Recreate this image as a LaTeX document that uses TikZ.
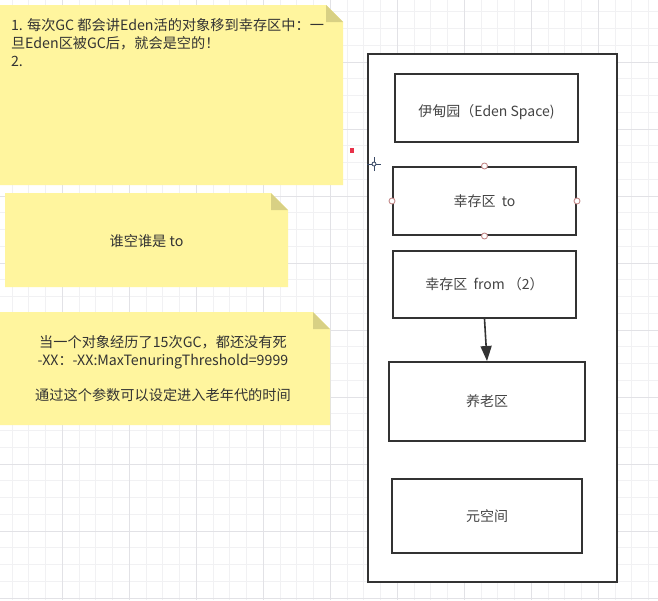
\documentclass[tikz,border=0pt]{standalone}
\usepackage{fontspec}
\setmainfont{Noto Sans CJK SC}
\usetikzlibrary{arrows.meta}
\definecolor{gridminor}{HTML}{F1F1F3}
\definecolor{gridmajor}{HTML}{E2E2E6}
\definecolor{notefill}{HTML}{FFF59E}
\definecolor{notefold}{HTML}{D8D084}
\definecolor{notetext}{HTML}{333333}
\definecolor{boxline}{HTML}{333333}
\definecolor{boxtext}{HTML}{444444}
\definecolor{handle}{HTML}{C48A8A}
\definecolor{cursor}{HTML}{3A4A66}
\definecolor{reddot}{HTML}{E8324A}
\tikzset{
  notebox/.style={inner sep=0pt, outer sep=0pt, align=center, text=notetext,
    font=\fontsize{14.2}{18}\selectfont},
  membox/.style={draw=boxline, line width=2pt, fill=white, inner sep=0pt,
    text=boxtext, font=\fontsize{14}{18}\selectfont},
  outerbox/.style={draw=boxline, line width=2.2pt, fill=white, inner sep=0pt},
  handledot/.style={circle, draw=handle, fill=white, line width=0.9pt,
    minimum size=6pt, inner sep=0pt},
  flowarrow/.style={draw=boxline, line width=1.6pt,
    -{Triangle[width=11pt,length=15pt]}}
}
\newcommand{\drawnote}[1]{%
  \fill[notefill] (#1.north west) -- ([xshift=-17pt]#1.north east)
    -- ([yshift=-17pt]#1.north east) -- (#1.south east) -- (#1.south west) -- cycle;
  \fill[notefold] ([xshift=-17pt]#1.north east) -- ([yshift=-17pt]#1.north east)
    -- ([xshift=-17pt,yshift=-17pt]#1.north east) -- cycle;
}
\begin{document}
\begin{tikzpicture}[x=1pt,y=-1pt]
  % background and bounds
  \fill[white] (0,0) rectangle (658,600);
  \useasboundingbox (0,0) rectangle (658,600);
  % grid
  \foreach \i in {0,...,39} {
    \draw[gridminor, line width=0.7pt] ({12.05+16.75*\i},0) -- ++(0,600);
  }
  \foreach \i in {0,...,36} {
    \draw[gridminor, line width=0.7pt] (0,{11.75+16.75*\i}) -- ++(658,0);
  }
  \foreach \i in {0,...,9} {
    \draw[gridmajor, line width=0.8pt] ({-4.7+67*\i},0) -- ++(0,600);
    \draw[gridmajor, line width=0.8pt] (0,{-5+67*\i}) -- ++(658,0);
  }

  % notes
  \node[notebox, minimum width=343pt, minimum height=180pt] (n1) at (171.5,95) {};
  \node[notebox, minimum width=283pt, minimum height=94pt] (n2) at (146.5,240) {};
  \node[notebox, minimum width=330pt, minimum height=113pt] (n3) at (165,368.5) {};
  \drawnote{n1}
  \drawnote{n2}
  \drawnote{n3}
  \node[notebox, anchor=north west, align=left] (t1) at (11,18)
    {1. 每次GC 都会讲Eden活的对象移到幸存区中：一\\
     旦Eden区被GC后，就会是空的！\\
     2.};
  \node[notebox] (t2) at ([yshift=-1pt]n2.center) {谁空谁是 to};
  \node[notebox] (t3) at ([xshift=-2pt,yshift=0pt]n3.center)
    {当一个对象经历了15次GC，都还没有死\\
     -XX：-XX:MaxTenuringThreshold=9999\\[17pt]
     通过这个参数可以设定进入老年代的时间};

  % heap container
  \node[outerbox, minimum width=249pt, minimum height=528pt] (heap) at (492.5,318) {};
  \node[membox, minimum width=183pt, minimum height=68pt] (eden) at (486.5,108)
    {\raisebox{-4pt}[\height][\depth]{伊甸园（Eden Space)}};
  \node[membox, minimum width=183pt, minimum height=68pt] (to) at (484.5,201)
    {幸存区\ \ to};
  \node[membox, minimum width=183pt, minimum height=67pt] (from) at (484.5,284.5)
    {幸存区\ \ from （2）};
  \node[membox, minimum width=196pt, minimum height=79pt] (old) at (487,401.5)
    {养老区};
  \node[membox, minimum width=190pt, minimum height=74pt] (meta) at (487,516)
    {元空间};

  \draw[flowarrow] (from.south) -- (old.north);

  % selection handles on "to"
  \node[handledot] (h1) at (to.north) {};
  \node[handledot] (h2) at (to.south) {};
  \node[handledot] (h3) at (to.west) {};
  \node[handledot] (h4) at (to.east) {};

  % screen artifacts: red mark and cursor
  \node[fill=reddot, minimum width=4pt, minimum height=5pt, inner sep=0pt] (mark) at (352,150) {};
  \coordinate (cur) at (374,164);
  \draw[cursor, line width=0.9pt] ([xshift=-7pt]cur) -- ([xshift=7pt]cur)
    ([yshift=-7pt]cur) -- ([yshift=7pt]cur);
  \node[circle, draw=cursor, fill=white, line width=0.8pt, minimum size=4pt, inner sep=0pt] (curdot) at (cur) {};
\end{tikzpicture}
\end{document}
